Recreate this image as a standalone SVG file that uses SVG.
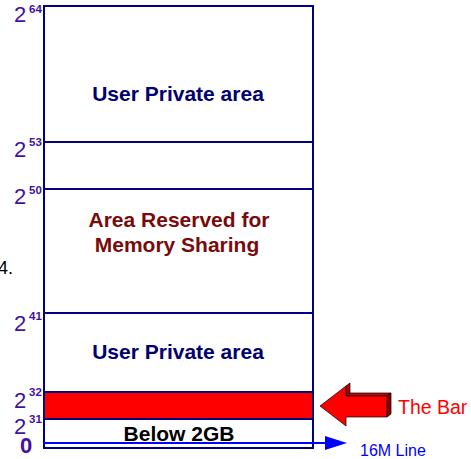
<svg xmlns="http://www.w3.org/2000/svg" width="471" height="459" viewBox="0 0 471 459">
<style>
.lbl{font-family:"Liberation Sans",Arial,sans-serif;fill:#4410A0}
.base{font-size:22px}
.sup{font-size:11.5px;font-weight:bold}
.area{font-family:"Liberation Sans",Arial,sans-serif;font-size:21px;font-weight:bold;text-anchor:middle}
.ln{stroke:#000080;stroke-width:2;fill:none}
</style>
<defs>
<marker id="ah" viewBox="0 0 22 14" refX="0" refY="7" markerWidth="22" markerHeight="14" markerUnits="userSpaceOnUse" orient="auto">
<path d="M0,0 L22,7 L0,14 Z" fill="#0000FF"/>
</marker>
</defs>
<rect width="471" height="459" fill="#FFFFFF"/>
<g id="memory-map">
<rect class="ln" x="44" y="6" width="269" height="442"/>
<line class="ln" x1="44" y1="142" x2="313" y2="142"/>
<line class="ln" x1="44" y1="189" x2="313" y2="189"/>
<line class="ln" x1="44" y1="313" x2="313" y2="313"/>
</g>
<g id="user-private-high">
<text class="area" x="178" y="101" fill="#000070">User Private area</text>
</g>
<g id="memory-sharing">
<text class="area" x="179" y="227" fill="#7A0A0A">Area Reserved for</text>
<text class="area" x="177" y="252" fill="#7A0A0A">Memory Sharing</text>
</g>
<g id="user-private-low">
<text class="area" x="178" y="359" fill="#000070">User Private area</text>
</g>
<g id="the-bar">
<rect x="44" y="392" width="269" height="27" fill="#FF0000" stroke="#000080" stroke-width="2"/>
</g>
<g id="below-2gb">
<text class="area" x="179" y="441" fill="#000000">Below 2GB</text>
</g>
<g id="labels">
<text class="lbl base" x="14" y="22">2</text><text class="lbl sup" x="29" y="13">64</text>
<text class="lbl base" x="14" y="157">2</text><text class="lbl sup" x="29" y="146">53</text>
<text class="lbl base" x="14" y="204">2</text><text class="lbl sup" x="29" y="194">50</text>
<text class="lbl base" x="14" y="331">2</text><text class="lbl sup" x="29" y="320">41</text>
<text class="lbl base" x="14" y="408">2</text><text class="lbl sup" x="29" y="396">32</text>
<text class="lbl base" x="14" y="434">2</text><text class="lbl sup" x="29" y="423">31</text>
<text class="lbl base" x="20" y="453" font-weight="bold">0</text>
<text x="-2" y="274" font-family="Liberation Sans,Arial,sans-serif" font-size="18" fill="#000000">4.</text>
</g>
<g id="connectors">
<line x1="44" y1="443" x2="325" y2="443" stroke="#0000FF" stroke-width="2" marker-end="url(#ah)"/>
<g id="bar-arrow" stroke="#000000" stroke-width="0.7" stroke-linejoin="round">
<polygon points="346,386 350,383 350,393 346,396" fill="#B00000"/>
<polygon points="346,396 350,393 391,393 387,396" fill="#CC0000"/>
<polygon points="387,396 391,393 391,414 387,417" fill="#8C0000"/>
<polygon points="320,406 346,386 346,396 387,396 387,417 346,417 346,426" fill="#FF0000"/>
</g>
</g>
<g id="annotations">
<text x="398" y="414" font-family="Liberation Sans,Arial,sans-serif" font-size="19.5" fill="#FF0000">The Bar</text>
<text x="360" y="456" font-family="Liberation Sans,Arial,sans-serif" font-size="16" fill="#0000FF">16M Line</text>
</g>
</svg>
